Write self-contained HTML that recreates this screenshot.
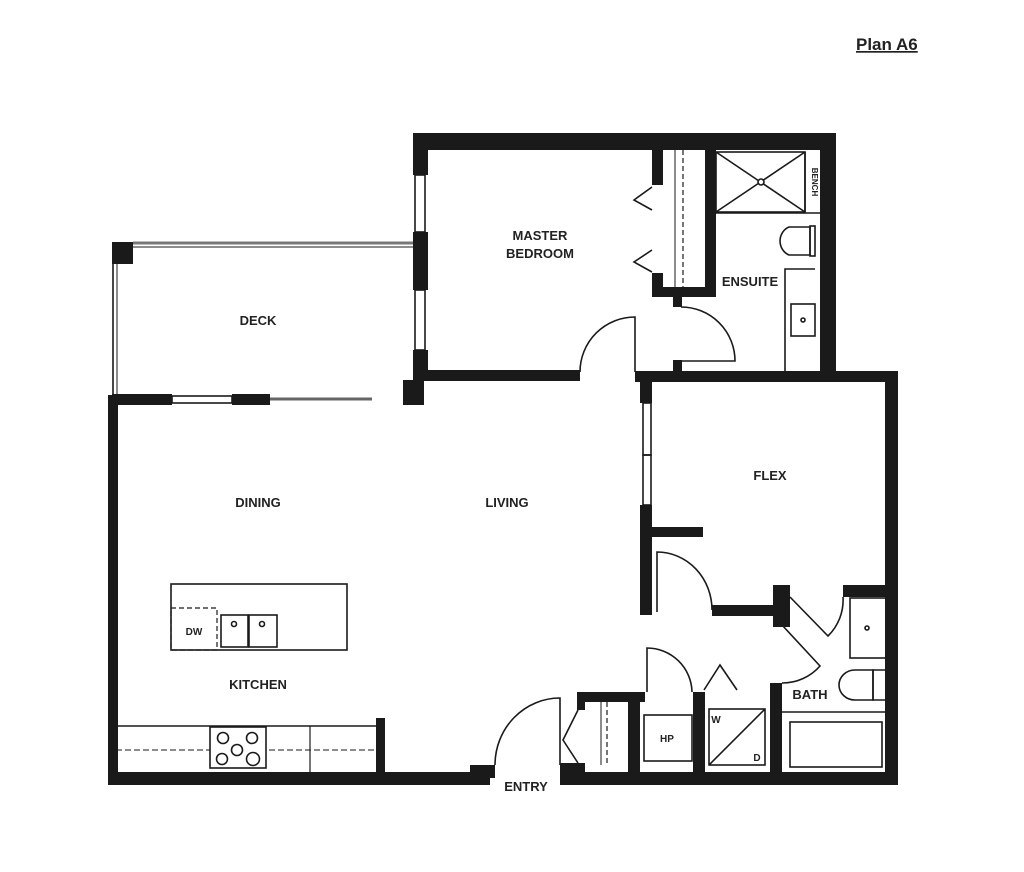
<!DOCTYPE html>
<html><head><meta charset="utf-8"><style>
html,body{margin:0;padding:0;background:#fff;}
svg{display:block;}
text{font-family:"Liberation Sans",sans-serif;fill:#222;}
.l{font-size:13px;font-weight:bold;}
</style></head><body>
<svg width="1024" height="872" viewBox="0 0 1024 872" xmlns="http://www.w3.org/2000/svg">
<text x="856" y="50" style="font-size:17px;font-weight:bold" text-decoration="underline">Plan A6</text>
<g fill="#1a1a1a">
<rect x="413" y="133" width="423" height="17"/>
<rect x="413" y="133" width="15" height="42"/>
<rect x="413" y="232" width="15" height="58"/>
<rect x="413" y="350" width="15" height="30"/>
<rect x="403" y="380" width="21" height="25"/>
<rect x="820" y="133" width="16" height="247"/>
<rect x="413" y="370" width="167" height="11"/>
<rect x="635" y="371" width="263" height="11"/>
<rect x="652" y="150" width="11" height="35"/>
<rect x="652" y="273" width="11" height="24"/>
<rect x="652" y="287" width="64" height="10"/>
<rect x="705" y="150" width="11" height="147"/>
<rect x="673" y="297" width="9" height="10"/>
<rect x="673" y="360" width="9" height="12"/>
<rect x="112" y="242" width="21" height="22"/>
<rect x="112" y="394" width="60" height="11"/>
<rect x="232" y="394" width="38" height="11"/>
<rect x="108" y="395" width="10" height="390"/>
<rect x="108" y="772" width="382" height="13"/>
<rect x="470" y="765" width="25" height="13"/>
<rect x="560" y="763" width="25" height="22"/>
<rect x="560" y="772" width="338" height="13"/>
<rect x="376" y="718" width="9" height="56"/>
<rect x="640" y="380" width="12" height="23"/>
<rect x="640" y="505" width="12" height="110"/>
<rect x="652" y="527" width="51" height="10"/>
<rect x="712" y="605" width="65" height="11"/>
<rect x="773" y="585" width="17" height="42"/>
<rect x="885" y="372" width="13" height="413"/>
<rect x="843" y="585" width="55" height="12"/>
<rect x="577" y="692" width="68" height="10"/>
<rect x="577" y="692" width="8" height="18"/>
<rect x="628" y="700" width="12" height="75"/>
<rect x="693" y="692" width="12" height="83"/>
<rect x="770" y="683" width="12" height="92"/>
</g>
<g fill="none" stroke="#1a1a1a" stroke-width="1.6">
<rect x="415" y="175" width="10" height="57"/>
<rect x="415" y="290" width="10" height="60"/>
<rect x="172" y="396" width="60" height="7"/>
<rect x="643" y="403" width="8" height="52"/>
<rect x="643" y="455" width="8" height="50"/>
<line x1="133" y1="243" x2="413" y2="243" stroke="#777" stroke-width="3"/>
<line x1="133" y1="247" x2="413" y2="247" stroke-width="1"/>
<line x1="113" y1="264" x2="113" y2="395"/>
<line x1="117" y1="264" x2="117" y2="395" stroke-width="1"/>
<line x1="270" y1="399" x2="372" y2="399" stroke="#666" stroke-width="3"/>
<path d="M635 372 V317 A55 55 0 0 0 580 372"/>
<path d="M681 361 H735 A54 54 0 0 0 681 307"/>
<path d="M652 187 L634 200 L652 210"/>
<path d="M652 250 L634 262 L652 272"/>
<line x1="675" y1="150" x2="675" y2="287" stroke-width="1"/>
<line x1="683" y1="150" x2="683" y2="287" stroke-dasharray="5,3" stroke-width="1.2"/>
<rect x="716" y="152" width="89" height="60"/>
<line x1="716" y1="152" x2="805" y2="212"/>
<line x1="805" y1="152" x2="716" y2="212"/>
<circle cx="761" cy="182" r="3" fill="#fff"/>
<line x1="805" y1="152" x2="805" y2="212"/>
<line x1="716" y1="213" x2="825" y2="213"/>
<path d="M810 227 H789 A14 15 0 0 0 789 255 H810 Z"/>
<rect x="810" y="226" width="5" height="30"/>
<path d="M785 372 V269 H815"/>
<rect x="791" y="304" width="24" height="32"/>
<circle cx="803" cy="320" r="2"/>
<path d="M657 612 V552 A55 58 0 0 1 712 610"/>
<path d="M790 597 L828 636 A50 50 0 0 0 843 597"/>
<path d="M782 625 L820 666 A50 50 0 0 1 782 683"/>
<rect x="850" y="598" width="40" height="60"/>
<circle cx="867" cy="628" r="2"/>
<path d="M873 670 H855 A16 15 0 0 0 855 700 H873 Z"/>
<path d="M873 670 H885 A5 15 0 0 1 885 700 H873 Z"/>
<line x1="782" y1="712" x2="888" y2="712"/>
<rect x="790" y="722" width="92" height="45"/>
<rect x="644" y="715" width="48" height="46"/>
<path d="M647 692 V648 A45 45 0 0 1 692 692"/>
<rect x="709" y="709" width="56" height="56"/>
<line x1="709" y1="765" x2="765" y2="709"/>
<path d="M704 690 L720 665 L737 690"/>
<line x1="601" y1="702" x2="601" y2="765" stroke-width="1"/>
<line x1="607" y1="702" x2="607" y2="765" stroke-dasharray="5,3" stroke-width="1.2"/>
<path d="M578 710 L563 740 L578 763"/>
<path d="M560 765 V698 A65 67 0 0 0 495 765"/>
<rect x="171" y="584" width="176" height="66"/>
<rect x="171" y="608" width="46" height="42" stroke-dasharray="5,3" stroke-width="1.2"/>
<rect x="221" y="615" width="27" height="32"/>
<rect x="249" y="615" width="28" height="32"/>
<circle cx="234" cy="624" r="2.5"/>
<circle cx="262" cy="624" r="2.5"/>
<line x1="116" y1="726" x2="376" y2="726"/>
<line x1="116" y1="750" x2="376" y2="750" stroke-dasharray="6,3" stroke-width="1"/>
<rect x="210" y="727" width="56" height="41" fill="#fff"/>
<circle cx="223" cy="738" r="5.5"/><circle cx="252" cy="738" r="5.5"/>
<circle cx="237" cy="750" r="5.5"/>
<circle cx="222" cy="759" r="5.5"/><circle cx="253" cy="759" r="6.5"/>
<line x1="310" y1="726" x2="310" y2="772" stroke-width="1.2"/>
</g>
<g class="l" text-anchor="middle">
<text x="258" y="325">DECK</text>
<text x="540" y="240">MASTER</text>
<text x="540" y="258">BEDROOM</text>
<text x="750" y="286">ENSUITE</text>
<text x="258" y="507">DINING</text>
<text x="507" y="507">LIVING</text>
<text x="770" y="480">FLEX</text>
<text x="258" y="689">KITCHEN</text>
<text x="810" y="699">BATH</text>
<text x="526" y="791">ENTRY</text>
<text x="194" y="635" style="font-size:10px">DW</text>
<text x="667" y="742" style="font-size:10px">HP</text>
<text x="716" y="723" style="font-size:10px">W</text>
<text x="757" y="761" style="font-size:10px">D</text>
<text transform="translate(812 182) rotate(90)" style="font-size:8px">BENCH</text>
</g>
</svg>
</body></html>
